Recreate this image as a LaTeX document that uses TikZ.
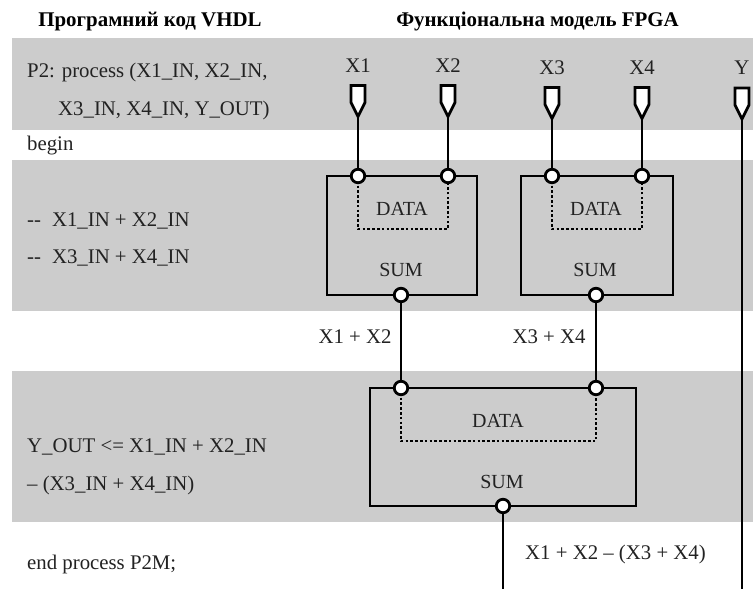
\documentclass[tikz,border=0pt]{standalone}
\usepackage{fontspec}
\setmainfont{Liberation Serif}
\usetikzlibrary{positioning}
\definecolor{bandgray}{HTML}{CCCCCC}
\definecolor{inktext}{HTML}{222222}
\tikzset{
  x=1pt,y=-1pt,
  band/.style={fill=bandgray,draw=none},
  wire/.style={line width=2.8pt,draw=black},
  dotwire/.style={line width=2.6pt,draw=black,dash pattern=on 2.6pt off 2.2pt},
  pin/.style={circle,draw=black,fill=white,line width=2.8pt,minimum size=13.5pt,inner sep=0pt},
  portshape/.style={line width=2.8pt,draw=black,fill=white,line join=miter},
  code/.style={anchor=west,inner sep=0pt,font=\fontsize{20.8}{22}\selectfont,text=inktext},
  lab/.style={inner sep=0pt,font=\fontsize{20.8}{22}\selectfont,text=inktext},
  boxlab/.style={inner sep=0pt,font=\fontsize{20}{22}\selectfont,text=inktext},
  head/.style={inner sep=0pt,font=\fontsize{20.9}{22}\selectfont\bfseries,text=black},
}
\newcommand{\portat}[4]{% name, x, label, top y
  \coordinate (#1t) at (#2,#4+31);
  \draw[portshape] (#2-7,#4) -- (#2+7,#4) -- (#2+7,#4+17) -- (#2,#4+31) -- (#2-7,#4+17) -- cycle;
  \node[lab] (#1l) at (#2,#4-20) {#3};
}
\begin{document}
\begin{tikzpicture}
\useasboundingbox (0,0) rectangle (753,589);
\path[band] (12,38) rectangle (753,130);
\path[band] (12,160) rectangle (753,311);
\path[band] (12,371) rectangle (753,522);

\node[head] (h1) at (150,22) {Програмний код VHDL};
\node[head] (h2) at (537.5,22) {Функціональна модель FPGA};

\node[code] (c1) at (27,72) {P2: process (X1\_IN, X2\_IN,};
\node[code] (c2) at (58,110) {X3\_IN, X4\_IN, Y\_OUT)};
\node[code] (c3) at (27,146) {begin};
\node[code] (c4) at (27,221) {-{}-\hspace{11pt}X1\_IN + X2\_IN};
\node[code] (c5) at (27,258) {-{}-\hspace{11pt}X3\_IN + X4\_IN};
\node[code] (c6) at (27,447) {Y\_OUT <= X1\_IN + X2\_IN};
\node[code] (c7) at (27,485) {– (X3\_IN + X4\_IN)};
\node[code] (c8) at (27,564) {end process P2M;};

% dotted data paths
\draw[dotwire] (358,176) -- (358,229) -- (448,229) -- (448,176);
\draw[dotwire] (552,176) -- (552,229) -- (642,229) -- (642,176);
\draw[dotwire] (401,388) -- (401,441) -- (596,441) -- (596,388);

% boxes
\draw[wire] (327,176) rectangle (477,295);
\draw[wire] (521,176) rectangle (673,295);
\draw[wire] (370,388) rectangle (636,506);

\portat{x1}{358}{X1}{85.5}
\portat{x2}{448}{X2}{85.5}
\portat{x3}{552}{X3}{87.5}
\portat{x4}{642}{X4}{87.5}
\portat{y}{742}{Y}{88}

\node[pin] (a1) at (358,176) {};
\node[pin] (a2) at (448,176) {};
\node[pin] (a3) at (552,176) {};
\node[pin] (a4) at (642,176) {};
\node[pin] (s1) at (401,295) {};
\node[pin] (s2) at (596,295) {};
\node[pin] (b1) at (401,388) {};
\node[pin] (b2) at (596,388) {};
\node[pin] (s3) at (503,506) {};
\coordinate (endres) at (503,589);
\coordinate (endy) at (742,589);

\draw[wire] (x1t) -- (a1);
\draw[wire] (x2t) -- (a2);
\draw[wire] (x3t) -- (a3);
\draw[wire] (x4t) -- (a4);
\draw[wire] (s1) -- (b1);
\draw[wire] (s2) -- (b2);
\draw[wire] (s3) -- (endres);
\draw[wire] (yt) -- (endy);

\node[boxlab] (d1) at (402,209) {DATA};
\node[boxlab] (d2) at (596,209) {DATA};
\node[boxlab] (d3) at (498,421) {DATA};
\node[boxlab] (u1) at (401,269.5) {SUM};
\node[boxlab] (u2) at (595,269.5) {SUM};
\node[boxlab] (u3) at (502,482) {SUM};
\node[lab] (t1) at (355,337) {X1 + X2};
\node[lab] (t2) at (549,337) {X3 + X4};
\node[lab] (t3) at (615.5,554) {X1 + X2 – (X3 + X4)};
\end{tikzpicture}
\end{document}
